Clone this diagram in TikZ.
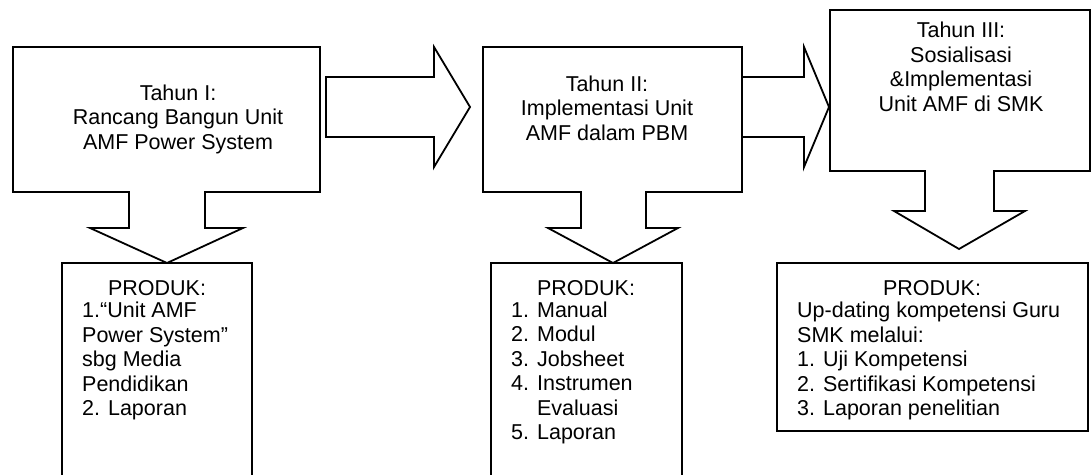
\documentclass[tikz,border=0pt]{standalone}
\usepackage{fontspec}
\setmainfont{Liberation Sans}
\usetikzlibrary{positioning}
\tikzstyle{blk}=[draw, line width=1.8pt, line join=miter]
\tikzstyle{txt}=[inner sep=0pt, font=\fontsize{21.5}{24.5}\selectfont]
\tikzstyle{lst}=[txt, align=left, anchor=west]

\begin{document}
\begin{tikzpicture}[x=1pt, y=-1pt]
\useasboundingbox (0,0) rectangle (1091,474);
% the three year boxes with their down arrows
\draw[blk] (13,47) -- (320,47) -- (320,192) -- (205,192) -- (205,228) -- (243,228) -- (167,263)
  -- (90,228) -- (129,228) -- (129,192) -- (13,192) -- cycle;
\draw[blk] (483,47) -- (742,47) -- (742,192) -- (646,192) -- (646,228) -- (678,228) -- (613,263)
  -- (548,228) -- (581,228) -- (581,192) -- (483,192) -- cycle;
\draw[blk] (830,10) -- (1090,10) -- (1090,171) -- (994,171) -- (994,211) -- (1025,211) -- (959,249)
  -- (894,211) -- (925,211) -- (925,171) -- (830,171) -- cycle;
% the block arrows from year to year
\draw[blk] (326,77) -- (434,77) -- (434,47) -- (470,107) -- (434,167) -- (434,137) -- (326,137) -- cycle;
\draw[blk] (742,77) -- (804,77) -- (804,47) -- (829,107) -- (804,167) -- (804,137) -- (742,137) -- cycle;
% the product boxes
\draw[blk] (62,480) -- (62,263) -- (252,263) -- (252,480);
\draw[blk] (491,480) -- (491,263) -- (682,263) -- (682,480);
\draw[blk] (777,263) rectangle (1088,431);
% the year texts
\node[txt, align=center] (T1) at (178,119) {Tahun I:\\Rancang Bangun Unit\\AMF Power System};
\node[txt, align=center] (T2) at (607,108) {Tahun II:\\Implementasi Unit\\AMF dalam PBM};
\node[txt, align=center] (T3) at (961,67) {Tahun III:\\Sosialisasi\\\&Implementasi\\Unit AMF di SMK};
% the product texts
\node[txt] (H1) at (157,288) {PRODUK:};
\node[txt] (H2) at (586,288) {PRODUK:};
\node[txt] (H3) at (932,288) {PRODUK:};
\node[lst] (P1) at (82,361) {1.“Unit AMF\\Power System”\\sbg Media\\Pendidikan\\2. Laporan};
\node[lst] (P2) at (511,373) {1. Manual\\2. Modul\\3. Jobsheet\\4. Instrumen\\\phantom{4. }Evaluasi\\5. Laporan};
\node[lst] (P3) at (797,361) {Up-dating kompetensi Guru\\SMK melalui:\\1. Uji Kompetensi\\2. Sertifikasi Kompetensi\\3. Laporan penelitian};
\end{tikzpicture}
\end{document}
